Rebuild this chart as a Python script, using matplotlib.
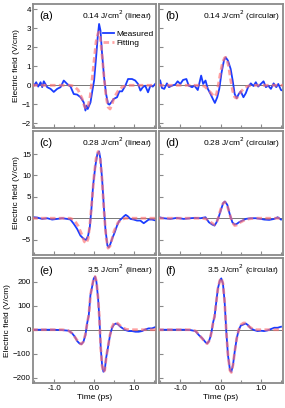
import numpy as np
import matplotlib
matplotlib.use('Agg')
import matplotlib.pyplot as plt
from matplotlib.ticker import MultipleLocator

plt.rcParams['font.family'] = ['Liberation Sans', 'DejaVu Sans']

# ---- data (time in ps, field in V/cm) ----
t_a = [-1.5, -1.45, -1.40, -1.34, -1.30, -1.26, -1.175, -1.09, -1.01, -0.925, -0.84, -0.76,
       -0.675, -0.59, -0.51, -0.425, -0.34, -0.26, -0.217, -0.19, -0.16, -0.09, -0.05, 0.0,
       0.05, 0.09, 0.125, 0.16, 0.2, 0.25, 0.3, 0.35, 0.383, 0.43, 0.49, 0.575, 0.633, 0.7,
       0.783, 0.85, 0.95, 1.03, 1.1, 1.16, 1.22, 1.28, 1.35, 1.41, 1.47, 1.53]
meas_a = [0.0, 0.16, -0.07, 0.16, -0.1, 0.21, -0.1, -0.19, -0.35, -0.19, -0.1, 0.25,
          0.07, -0.07, -0.46, -0.49, -0.63, -0.9, -1.33, -1.07, -1.25, -0.9, -0.37, 0.25,
          1.47, 2.53, 3.23, 2.88, 1.65, 0.42, -0.46, -0.98, -1.02, -0.9, -0.72, -0.63, -0.32, -0.32,
          -0.02, 0.33, 0.33, 0.25, 0.07, -0.28, -0.1, -0.02, -0.37, -0.02, -0.07, 0.07]
tf_a = [-1.55, -0.6, -0.5, -0.4, -0.3, -0.25, -0.2, -0.15, -0.1, -0.05, 0.0, 0.05, 0.1, 0.125,
        0.15, 0.2, 0.25, 0.3, 0.35, 0.4, 0.45, 0.5, 0.6, 0.7, 0.8, 0.9, 1.55]
fit_a = [0.0, 0.0, -0.05, -0.25, -0.7, -1.05, -1.25, -1.1, -0.6, 0.3, 1.3, 2.3, 2.75, 2.8,
         2.6, 1.6, 0.4, -0.6, -1.15, -1.25, -1.0, -0.65, -0.3, -0.1, -0.02, 0.0, 0.0]

t_b = [-1.5, -1.458, -1.4, -1.333, -1.283, -1.208, -1.125, -1.067, -1.0, -0.933, -0.85, -0.792,
       -0.708, -0.65, -0.567, -0.483, -0.433, -0.375, -0.317, -0.25, -0.192, -0.142, -0.083, -0.033,
       0.025, 0.083, 0.125, 0.183, 0.25, 0.3, 0.35, 0.4, 0.45, 0.5, 0.567, 0.625, 0.683, 0.75,
       0.817, 0.875, 0.933, 1.0, 1.067, 1.125, 1.183, 1.25, 1.317, 1.383, 1.433, 1.5, 1.55]
meas_b = [0.25, -0.14, -0.19, 0.1, -0.1, -0.02, 0.04, 0.21, 0.07, 0.28, 0.33, -0.02,
          -0.1, -0.02, -0.25, 0.51, 0.07, 0.25, -0.19, -0.46, -0.72, -0.93, -0.63, -0.19,
          0.68, 1.3, 1.47, 1.3, 0.86, 0.25, -0.46, -0.68, -0.46, -0.32, -0.63, -0.42, -0.1, 0.1,
          -0.04, 0.16, -0.07, 0.07, 0.21, -0.1, -0.02, -0.19, 0.1, -0.1, 0.07, -0.25, -0.28]
tf_b = [-1.55, -0.5, -0.4, -0.3, -0.2, -0.15, -0.1, -0.05, 0.0, 0.05, 0.1, 0.125, 0.15, 0.2,
        0.25, 0.3, 0.35, 0.4, 0.45, 0.5, 0.6, 0.7, 0.8, 1.55]
fit_b = [0.0, 0.0, -0.05, -0.25, -0.5, -0.6, -0.45, 0.1, 0.7, 1.2, 1.45, 1.47, 1.4, 1.0,
         0.3, -0.3, -0.62, -0.68, -0.55, -0.35, -0.12, -0.03, 0.0, 0.0]

t_c = [-1.508, -1.425, -1.3, -1.175, -1.05, -0.925, -0.8, -0.675, -0.592, -0.508, -0.425, -0.342,
       -0.258, -0.2, -0.15, -0.108, -0.067, -0.025, 0.033, 0.083, 0.125, 0.158, 0.2, 0.242,
       0.283, 0.333, 0.367, 0.408, 0.45, 0.517, 0.575, 0.633, 0.7, 0.75, 0.792, 0.842, 0.908,
       0.992, 1.075, 1.158, 1.242, 1.3, 1.367, 1.45, 1.55]
meas_c = [0.23, 0.16, -0.16, 0.0, -0.31, -0.16, 0.0, -0.16, -0.31, -1.33, -2.5, -4.06,
          -4.84, -5.08, -4.06, -2.1, 2.19, 7.66, 12.34, 15.08, 15.63, 13.9, 9.22, 2.97,
          -2.5, -6.4, -6.8, -6.0, -4.84, -3.28, -1.72, -0.55, 0.0, 0.47, 0.78, 0.47, -0.16,
          -0.31, -0.55, -0.55, -1.17, -0.78, -0.31, -0.31, -0.55]
tf_c = [-1.55, -0.6, -0.5, -0.4, -0.3, -0.25, -0.2, -0.15, -0.1, -0.05, 0.0, 0.05, 0.1, 0.15,
        0.2, 0.25, 0.3, 0.35, 0.4, 0.45, 0.5, 0.6, 0.7, 0.8, 1.55]
fit_c = [0.0, 0.0, -0.4, -1.8, -4.0, -5.4, -5.9, -4.8, -1.0, 4.5, 10.0, 14.0, 15.6, 14.2,
         9.0, 1.5, -4.5, -7.0, -6.5, -4.8, -3.0, -1.0, -0.2, 0.0, 0.0]

t_d = [-1.53, -1.416, -1.25, -1.083, -0.917, -0.75, -0.625, -0.5, -0.375, -0.291, -0.208, -0.15,
       -0.1, -0.041, 0.017, 0.067, 0.108, 0.167, 0.225, 0.292, 0.35, 0.4, 0.458, 0.542, 0.625,
       0.75, 0.875, 1.0, 1.083, 1.208, 1.333, 1.417, 1.5]
meas_d = [0.23, 0.0, -0.16, 0.08, -0.16, 0.0, 0.08, 0.0, 0.23, -0.94, -1.48, -1.72,
          -0.94, 0.47, 2.19, 3.59, 3.91, 3.13, 1.02, -0.94, -1.48, -1.33, -0.94, -0.55, -0.16,
          0.0, 0.0, -0.16, -0.31, -0.39, -0.16, 0.23, -0.31]
tf_d = [-1.55, -0.45, -0.35, -0.25, -0.15, -0.1, -0.05, 0.0, 0.05, 0.1, 0.15, 0.2, 0.25, 0.3,
        0.35, 0.4, 0.5, 0.6, 0.7, 0.85, 1.55]
fit_d = [0.0, 0.0, -0.2, -0.9, -1.55, -1.0, 0.3, 2.0, 3.3, 3.8, 3.4, 1.9, 0.2, -1.1,
         -1.7, -1.6, -0.9, -0.4, -0.15, 0.0, 0.0]

t_e = [-1.508, -1.3, -1.05, -0.8, -0.633, -0.55, -0.483, -0.425, -0.367, -0.317, -0.267, -0.217,
       -0.175, -0.133, -0.092, -0.05, -0.008, 0.025, 0.058, 0.1, 0.133, 0.167, 0.2, 0.233,
       0.267, 0.3, 0.35, 0.4, 0.45, 0.5, 0.55, 0.6, 0.658, 0.717, 0.783, 0.867, 0.95, 1.033,
       1.117, 1.2, 1.283, 1.367, 1.45, 1.533]
meas_e = [0, 0, 0, -1.4, -4.2, -15, -29, -47, -57, -60, -50, -22,
          26, 61, 144, 179, 214, 221, 200, 131, 47, -78, -147, -175,
          -168, -119, -71, -22, 8, 22, 26, 22, 12.5, 5.6, -1.4, -5.6, -5.6, -8.3,
          -8.3, -5.6, 1.4, 5.6, 5.6, 11]
tf_e = [-1.55, -0.8, -0.65, -0.55, -0.45, -0.37, -0.32, -0.27, -0.22, -0.175, -0.13, -0.09,
        -0.05, -0.01, 0.025, 0.06, 0.1, 0.133, 0.167, 0.2, 0.233, 0.267, 0.3, 0.35, 0.4, 0.45,
        0.5, 0.55, 0.6, 0.7, 0.8, 0.9, 1.55]
fit_e = [0, 0, -3, -15, -38, -56, -60, -50, -20, 25, 65, 145,
         182, 214, 222, 200, 131, 47, -78, -150, -178, -168, -120, -68, -20, 12,
         28, 32, 25, 10, 2, 0, 0]

t_f = [-1.53, -1.25, -0.917, -0.75, -0.625, -0.542, -0.458, -0.375, -0.333, -0.29, -0.25, -0.225,
       -0.183, -0.15, -0.117, -0.067, -0.017, 0.017, 0.058, 0.1, 0.142, 0.183, 0.233, 0.267,
       0.308, 0.35, 0.4, 0.45, 0.5, 0.567, 0.625, 0.683, 0.75, 0.833, 0.917, 1.0, 1.083,
       1.167, 1.25, 1.333, 1.417, 1.5]
meas_f = [0, 0, 0, -1.4, -5.6, -22, -35, -52, -57, -48, -28, -8.3,
          33, 54, 103, 172, 206, 214, 193, 117, -8.3, -106, -168, -175,
          -147, -92, -36, -1.4, 17, 22, 26, 19, 5.6, -1.4, -5.6, -4.2, -5.6,
          -2.8, 2.8, 8.3, 8.3, 12.5]
tf_f = [-1.55, -0.75, -0.62, -0.54, -0.46, -0.375, -0.333, -0.29, -0.25, -0.225, -0.183, -0.15,
        -0.117, -0.067, -0.017, 0.017, 0.058, 0.1, 0.142, 0.183, 0.233, 0.267, 0.308, 0.35,
        0.4, 0.45, 0.5, 0.567, 0.625, 0.7, 0.8, 0.9, 1.55]
fit_f = [0, 0, -5, -20, -36, -53, -58, -48, -28, -8, 33, 56,
         103, 172, 206, 216, 193, 117, -8, -106, -170, -178, -147, -92,
         -36, -1, 20, 28, 28, 14, 3, 0, 0]

panels = ['(a)', '(b)', '(c)', '(d)', '(e)', '(f)']
notes = ['0.14 J/cm$^2$ (linear)', '0.14 J/cm$^2$ (circular)',
         '0.28 J/cm$^2$ (linear)', '0.28 J/cm$^2$ (circular)',
         '3.5 J/cm$^2$ (linear)', '3.5 J/cm$^2$ (circular)']
meas = [(t_a, meas_a), (t_b, meas_b), (t_c, meas_c), (t_d, meas_d), (t_e, meas_e), (t_f, meas_f)]
fits = [(tf_a, fit_a), (tf_b, fit_b), (tf_c, fit_c), (tf_d, fit_d), (tf_e, fit_e), (tf_f, fit_f)]
ylims = [(-2.25, 4.28), (-8.6, 20.4), (-222, 299)]
yticks = [np.arange(-2, 5, 1), np.arange(-5, 16, 5), np.arange(-200, 201, 100)]

W, H = 285, 408
fig = plt.figure(figsize=(W / 100, H / 100), dpi=100)
cols_px = [(33, 156), (159, 283)]
rows_px = [(4, 128), (131, 255), (258, 383)]

blue = '#1a3cff'
red = '#ff7070'
grey = '#8a8a8a'

for i in range(6):
    r, c = divmod(i, 2)
    x0, x1 = cols_px[c]
    y0, y1 = rows_px[r]
    ax = fig.add_axes([x0 / W, 1 - y1 / H, (x1 - x0) / W, (y1 - y0) / H])
    ax.axhline(0, color='#777777', lw=0.7, zorder=1)
    t, v = meas[i]
    ax.plot(t, v, color=blue, lw=1.3, zorder=2, label='Measured')
    tf, vf = fits[i]
    ax.plot(tf, vf, color=red, lw=2.0, ls=(0, (2.0, 1.2)), alpha=0.65, zorder=3, label='Fitting')
    ax.set_xlim(-1.53, 1.55)
    ax.set_ylim(*ylims[r])
    ax.set_yticks(yticks[r])
    ax.xaxis.set_major_locator(MultipleLocator(1.0))
    ax.xaxis.set_minor_locator(MultipleLocator(0.5))
    for s in ax.spines.values():
        s.set_color(grey)
        s.set_linewidth(1.3)
    ax.tick_params(direction='in', length=3, width=0.8, color=grey, labelsize=5.8, pad=1.5)
    ax.tick_params(which='minor', direction='in', length=2, width=0.8, color=grey)
    if c == 1:
        ax.set_yticklabels([])
    else:
        ax.set_ylabel('Electric field (V/cm)', fontsize=6, labelpad=1.5)
    if r < 2:
        ax.set_xticklabels([])
    else:
        ax.set_xticklabels(['%.1f' % x for x in ax.get_xticks()])
        ax.set_xlabel('Time (ps)', fontsize=6, labelpad=1.5)
    ax.text(0.05, 0.90, panels[i], transform=ax.transAxes, fontsize=8, va='center', ha='left')
    ax.text(0.97, 0.905, notes[i], transform=ax.transAxes, fontsize=6, va='center', ha='right')
    if i == 0:
        ax.legend(loc='upper right', bbox_to_anchor=(1.0, 0.81), frameon=False, fontsize=6,
                  handlelength=1.3, handletextpad=0.3, borderaxespad=0.2, borderpad=0.1,
                  labelspacing=0.15)

fig.savefig('out.png', dpi=100)
